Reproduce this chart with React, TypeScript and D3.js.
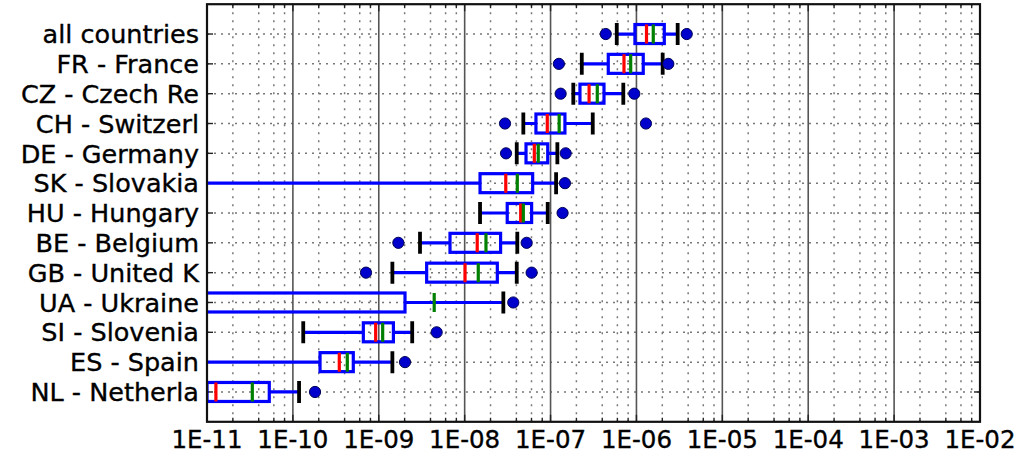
import * as d3 from "d3";

// categories top to bottom
const categories = [
  "all countries",
  "FR - France",
  "CZ - Czech Re",
  "CH - Switzerl",
  "DE - Germany",
  "SK - Slovakia",
  "HU - Hungary",
  "BE - Belgium",
  "GB - United K",
  "UA - Ukraine",
  "SI - Slovenia",
  "ES - Spain",
  "NL - Netherla",
];

// 1e-13 = below the axis (off chart on the left)
const whiskerLow = [5.9e-7, 2.31e-7, 1.84e-7, 4.82e-8, 4.04e-8, 1e-13, 1.51e-8, 3.02e-9, 1.44e-9, 1e-13, 1.32e-10, 1e-13, 1e-13];
const q1 = [9.6e-7, 4.7e-7, 2.2e-7, 6.76e-8, 5.18e-8, 1.51e-8, 3.13e-8, 6.75e-9, 3.61e-9, 1e-13, 6.61e-10, 2.07e-10, 1e-11];
const medians = [1.31e-6, 7.16e-7, 2.81e-7, 9.16e-8, 6.47e-8, 3.01e-8, 4.49e-8, 1.4e-8, 1.01e-8, 1e-13, 9.2e-10, 3.47e-10, 1.27e-11];
const means = [1.57e-6, 8.57e-7, 3.5e-7, 1.26e-7, 7.19e-8, 4.1e-8, 4.82e-8, 1.77e-8, 1.44e-8, 4.42e-9, 1.11e-9, 4.3e-10, 3.37e-11];
const q3 = [2.11e-6, 1.2e-6, 4.19e-7, 1.47e-7, 9.27e-8, 6.19e-8, 6.02e-8, 2.62e-8, 2.4e-8, 2.02e-9, 1.48e-9, 5.05e-10, 5.31e-11];
const whiskerHigh = [3.02e-6, 2.02e-6, 7.03e-7, 3.1e-7, 1.2e-7, 1.16e-7, 9.27e-8, 4.1e-8, 4.04e-8, 2.82e-8, 2.45e-9, 1.44e-9, 1.18e-10];
const outliersLow = [4.39e-7, 1.25e-7, 1.31e-7, 2.95e-8, 3.03e-8, null, null, 1.69e-9, 7.1e-10, null, null, null, null];
const outliersHigh = [3.85e-6, 2.35e-6, 9.44e-7, 1.29e-6, 1.5e-7, 1.47e-7, 1.38e-7, 5.27e-8, 6.02e-8, 3.68e-8, 4.72e-9, 2.02e-9, 1.81e-10];

const xTicks = [1e-11, 1e-10, 1e-9, 1e-8, 1e-7, 1e-6, 1e-5, 1e-4, 1e-3, 1e-2];
const minorFactors = [2, 4, 6, 8];

const W = 1019;
const H = 453;
const left = 207, right = 980, top = 4.2, bottom = 421.8;

const fmt = (v: number) => {
  const e = Math.round(Math.log10(v));
  return "1E-" + String(-e).padStart(2, "0");
};

export default function App() {
  const x = d3.scaleLog().domain([1e-11, 1e-2]).range([left, right]);
  const y = d3.scalePoint<string>().domain(categories).range([top, bottom]).padding(1);

  const minors: number[] = [];
  xTicks.slice(0, -1).forEach((t) => minorFactors.forEach((f) => minors.push(t * f)));

  const boxH = 19;
  const capH = 22;
  const font = "DejaVu Sans, Verdana, sans-serif";

  return (
    <svg width={W} height={H} style={{ position: "absolute", left: 0, top: 0, background: "#fff" }}>
      <defs>
        <clipPath id="plot">
          <rect x={left} y={top} width={right - left} height={bottom - top} />
        </clipPath>
      </defs>

      {/* grid */}
      <g>
        {minors.map((m, i) => (
          <line key={"mi" + i} x1={x(m)} x2={x(m)} y1={top} y2={bottom} stroke="#777" strokeWidth={1.5} strokeDasharray="2 6" />
        ))}
        {categories.map((c) => (
          <line key={"h" + c} x1={left} x2={right} y1={y(c)} y2={y(c)} stroke="#777" strokeWidth={1.5} strokeDasharray="2 5" />
        ))}
        {xTicks.map((t) => (
          <line key={"ma" + t} x1={x(t)} x2={x(t)} y1={top} y2={bottom} stroke="#555" strokeWidth={1.6} />
        ))}
      </g>

      {/* ticks */}
      <g stroke="#222" strokeWidth={1.4}>
        {xTicks.map((t) => (
          <g key={"t" + t}>
            <line x1={x(t)} x2={x(t)} y1={bottom} y2={bottom - 7} />
            <line x1={x(t)} x2={x(t)} y1={top} y2={top + 7} />
          </g>
        ))}
        {minors.map((m, i) => (
          <g key={"tm" + i}>
            <line x1={x(m)} x2={x(m)} y1={bottom} y2={bottom - 4} />
            <line x1={x(m)} x2={x(m)} y1={top} y2={top + 4} />
          </g>
        ))}
        {categories.map((c) => (
          <g key={"ty" + c}>
            <line x1={left} x2={left + 6} y1={y(c)} y2={y(c)} />
            <line x1={right} x2={right - 6} y1={y(c)} y2={y(c)} />
          </g>
        ))}
      </g>

      {/* boxes */}
      <g clipPath="url(#plot)">
        {categories.map((c, i) => {
          const cy = y(c) as number;
          return (
            <g key={"b" + c}>
              <line x1={x(whiskerLow[i])} x2={x(q1[i])} y1={cy} y2={cy} stroke="#0000ff" strokeWidth={3.2} />
              <line x1={x(q3[i])} x2={x(whiskerHigh[i])} y1={cy} y2={cy} stroke="#0000ff" strokeWidth={3.2} />
              <rect x={x(q1[i])} y={cy - boxH / 2} width={x(q3[i]) - x(q1[i])} height={boxH} fill="none" stroke="#0000ff" strokeWidth={3.2} />
              <line x1={x(medians[i])} x2={x(medians[i])} y1={cy - boxH / 2} y2={cy + boxH / 2} stroke="#ff0000" strokeWidth={3.2} />
              <line x1={x(means[i])} x2={x(means[i])} y1={cy - boxH / 2} y2={cy + boxH / 2} stroke="#008000" strokeWidth={3.2} />
              <line x1={x(whiskerLow[i])} x2={x(whiskerLow[i])} y1={cy - capH / 2} y2={cy + capH / 2} stroke="#000" strokeWidth={3.8} />
              <line x1={x(whiskerHigh[i])} x2={x(whiskerHigh[i])} y1={cy - capH / 2} y2={cy + capH / 2} stroke="#000" strokeWidth={3.8} />
              {outliersLow[i] != null && (
                <circle cx={x(outliersLow[i] as number)} cy={cy} r={5.6} fill="#0000cc" stroke="#000055" strokeWidth={1} />
              )}
              {outliersHigh[i] != null && (
                <circle cx={x(outliersHigh[i] as number)} cy={cy} r={5.6} fill="#0000cc" stroke="#000055" strokeWidth={1} />
              )}
            </g>
          );
        })}
      </g>

      {/* frame */}
      <rect x={left} y={top} width={right - left} height={bottom - top} fill="none" stroke="#111" strokeWidth={2.2} />

      {/* labels */}
      {categories.map((c) => (
        <text key={"l" + c} x={199} y={y(c)} dy="0.36em" textAnchor="end" fontFamily={font} fontSize={25.5} fill="#000" stroke="#000" strokeWidth={0.35}>
          {c}
        </text>
      ))}
      {xTicks.map((t) => (
        <text key={"xl" + t} x={x(t)} y={448} textAnchor="middle" fontFamily={font} fontSize={24.5} fill="#000" stroke="#000" strokeWidth={0.35}>
          {fmt(t)}
        </text>
      ))}
    </svg>
  );
}
